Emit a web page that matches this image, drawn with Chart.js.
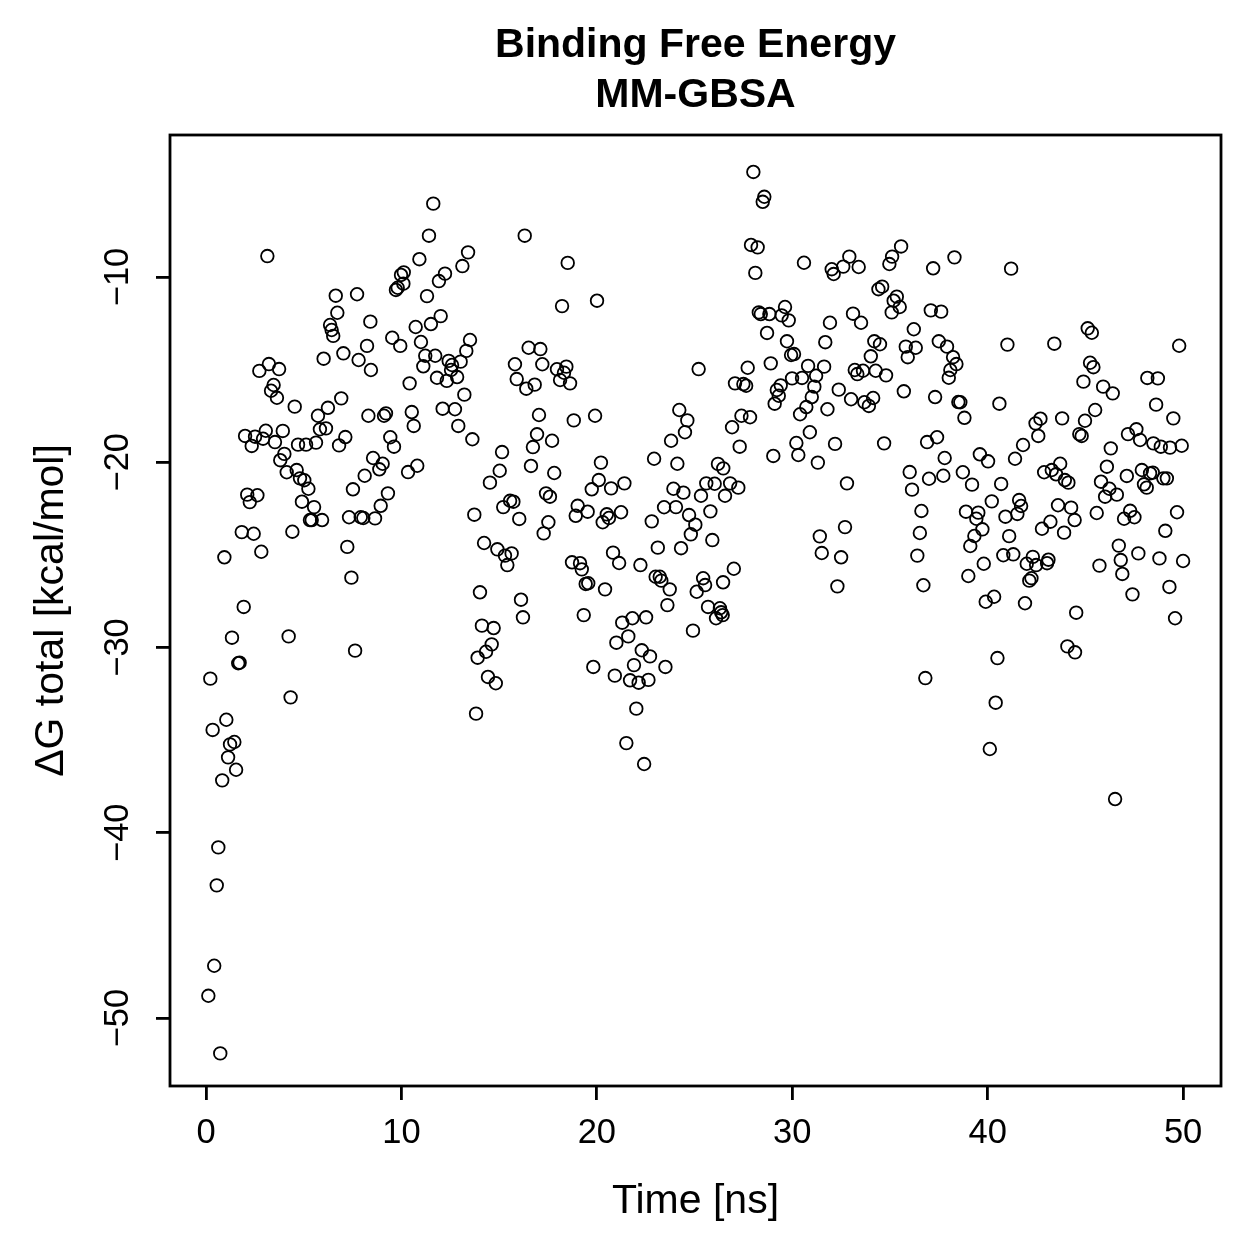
<!DOCTYPE html>
<html>
<head>
<meta charset="utf-8">
<script src="https://cdn.jsdelivr.net/npm/chart.js"></script>
<style>
html,body{margin:0;padding:0;background:#fff;}
canvas{display:block;}
</style>
</head>
<body>
<canvas id="c" width="1259" height="1259"></canvas>
<script>
const titleLines = ['Binding Free Energy', 'MM-GBSA'];
const xLabel = 'Time [ns]';
const yLabel = 'ΔG total [kcal/mol]';
const xTicks = [0, 10, 20, 30, 40, 50];
const yTicks = [-50, -40, -30, -20, -10];

const timeNs = [
0.12,0.22,0.34,0.42,0.55,0.63,0.73,0.83,0.94,1.04,1.13,1.23,1.33,1.45,1.54,1.65,1.72,1.83,1.93,2.00,
2.11,2.24,2.34,2.44,2.51,2.63,2.73,2.83,2.92,3.06,3.14,3.22,3.33,3.46,3.53,3.63,3.74,3.80,3.93,4.01,
4.13,4.23,4.33,4.42,4.54,4.64,4.71,4.81,4.91,5.03,5.12,5.24,5.32,5.41,5.53,5.63,5.73,5.83,5.94,6.02,
6.14,6.24,6.35,6.43,6.51,6.64,6.72,6.81,6.92,7.03,7.13,7.23,7.32,7.44,7.52,7.63,7.73,7.81,7.92,8.05,
8.12,8.24,8.31,8.41,8.44,8.55,8.65,8.87,8.94,9.04,9.11,9.21,9.31,9.43,9.53,9.62,9.72,9.81,9.94,9.98,
10.10,10.12,10.34,10.42,10.53,10.63,10.73,10.81,10.92,11.00,11.12,11.22,11.31,11.41,11.51,11.63,11.73,11.82,11.92,12.01,
12.11,12.23,12.32,12.42,12.54,12.59,12.74,12.85,12.91,13.03,13.12,13.22,13.32,13.41,13.51,13.63,13.73,13.82,13.90,14.02,
14.12,14.23,14.33,14.43,14.53,14.62,14.72,14.83,14.91,15.03,15.15,15.21,15.30,15.42,15.56,15.64,15.73,15.81,15.90,16.03,
16.12,16.22,16.31,16.39,16.51,16.63,16.73,16.82,16.94,17.04,17.11,17.21,17.28,17.40,17.52,17.60,17.71,17.82,17.96,18.12,
18.22,18.32,18.44,18.51,18.63,18.73,18.82,18.92,19.02,19.14,19.23,19.33,19.43,19.53,19.56,19.74,19.82,19.91,20.01,20.10,
20.21,20.30,20.42,20.51,20.62,20.73,20.83,20.92,21.00,21.14,21.24,21.30,21.41,21.51,21.61,21.70,21.82,21.90,22.02,22.14,
22.23,22.30,22.42,22.52,22.64,22.72,22.81,22.93,23.01,23.12,23.22,23.30,23.44,23.51,23.61,23.73,23.80,23.92,24.05,24.12,
24.22,24.31,24.43,24.51,24.63,24.72,24.81,24.92,25.04,25.11,25.21,25.33,25.44,25.54,25.60,25.69,25.81,25.91,26.03,26.10,
26.20,26.30,26.36,26.44,26.47,26.46,26.56,26.82,26.92,27.01,27.07,27.24,27.31,27.40,27.50,27.64,27.72,27.84,27.89,28.01,
28.11,28.23,28.29,28.39,28.49,28.57,28.71,28.83,28.90,29.03,29.10,29.21,29.31,29.41,29.46,29.63,29.73,29.82,29.94,29.99,
30.09,30.21,30.31,30.40,30.50,30.60,30.72,30.81,30.90,31.00,31.13,31.22,31.31,31.41,31.51,31.63,31.69,31.80,31.93,32.02,
32.12,32.19,32.31,32.38,32.50,32.61,32.70,32.80,32.92,33.01,33.11,33.20,33.33,33.40,33.52,33.62,33.69,33.92,34.02,34.14,
34.20,34.27,34.41,34.49,34.60,34.70,34.80,34.97,35.09,35.11,35.19,35.35,35.50,35.57,35.71,35.81,35.91,36.01,36.13,36.22,
36.32,36.40,36.53,36.61,36.71,36.81,36.90,37.00,37.09,37.21,37.31,37.41,37.50,37.62,37.73,37.80,37.92,38.01,38.09,38.23,
38.30,38.40,38.50,38.60,38.73,38.81,38.89,39.01,39.11,39.20,39.32,39.42,39.52,39.60,39.73,39.80,39.90,40.02,40.11,40.21,
40.33,40.41,40.50,40.60,40.69,40.80,40.91,41.01,41.10,41.20,41.31,41.40,41.52,41.61,41.71,41.81,41.91,42.00,42.13,42.24,
42.31,42.45,42.48,42.59,42.70,42.78,42.89,43.04,43.11,43.21,43.28,43.41,43.50,43.60,43.71,43.81,43.91,43.95,44.08,44.13,
44.27,44.45,44.47,44.53,44.69,44.81,44.90,44.98,45.12,45.24,45.33,45.41,45.50,45.58,45.72,45.80,45.91,46.01,46.10,46.23,
46.30,46.40,46.52,46.61,46.71,46.81,46.89,46.98,47.12,47.18,47.29,47.41,47.51,47.61,47.71,47.80,47.89,48.00,48.14,48.17,
48.31,48.45,48.48,48.62,48.71,48.79,48.86,48.99,49.09,49.17,49.30,49.33,49.50,49.59,49.69,49.80,49.93,50.00
];

const deltaG = [
-48.80,-31.68,-34.45,-47.18,-42.84,-40.79,-51.91,-37.17,-25.13,-33.90,-35.93,-35.23,-29.47,-35.10,-36.60,-30.85,-30.82,-23.77,-27.81,-18.58,
-21.75,-22.15,-19.12,-23.86,-18.62,-21.78,-15.07,-24.83,-18.73,-18.30,-8.87,-14.70,-16.14,-15.83,-18.91,-16.52,-14.97,-19.89,-18.31,-19.55,
-20.54,-29.40,-32.69,-23.75,-17.00,-20.42,-19.05,-20.87,-22.13,-20.97,-19.05,-21.43,-23.12,-23.12,-22.42,-18.94,-17.49,-18.22,-23.12,-14.41,
-18.17,-17.06,-12.59,-12.86,-13.18,-11.01,-11.93,-19.09,-16.55,-14.12,-18.64,-24.57,-22.97,-26.23,-21.46,-30.17,-10.93,-14.48,-22.97,-23.01,
-20.73,-13.72,-17.49,-12.41,-15.02,-19.77,-23.03,-20.38,-22.35,-20.08,-17.49,-17.36,-21.68,-18.65,-13.28,-19.16,-10.70,-10.58,-13.72,-9.89,
-10.36,-9.75,-20.53,-15.74,-17.29,-18.04,-12.70,-20.19,-9.04,-13.51,-14.82,-14.25,-11.03,-7.77,-12.54,-6.04,-14.25,-15.44,-10.22,-12.11,
-17.11,-9.82,-15.61,-14.53,-15.02,-14.75,-17.14,-15.40,-18.04,-14.57,-9.41,-16.35,-13.99,-8.67,-13.40,-18.76,-22.83,-33.57,-30.55,-27.02,
-28.82,-24.36,-30.23,-31.59,-21.10,-29.83,-28.95,-31.93,-24.70,-20.46,-19.45,-22.42,-25.04,-25.55,-22.08,-24.92,-22.13,-14.71,-15.51,-23.06,
-27.42,-28.37,-7.77,-16.03,-13.82,-20.20,-19.18,-15.81,-18.49,-17.45,-13.89,-14.71,-23.84,-21.68,-23.24,-21.86,-18.84,-20.58,-14.98,-15.56,
-11.57,-15.17,-14.84,-9.24,-15.74,-25.40,-17.74,-22.89,-22.35,-25.45,-25.78,-28.25,-26.57,-22.67,-26.53,-21.46,-31.05,-17.49,-11.28,-20.96,
-20.02,-23.24,-26.86,-22.81,-23.01,-21.41,-24.88,-31.52,-29.74,-25.44,-22.70,-28.66,-21.14,-35.16,-29.40,-31.77,-28.42,-30.95,-33.30,-31.90,
-25.55,-30.15,-36.29,-28.37,-31.75,-30.48,-23.19,-19.81,-26.18,-24.61,-26.18,-26.39,-22.43,-31.05,-27.71,-26.86,-18.84,-21.43,-22.42,-20.08,
-17.18,-24.64,-21.64,-18.38,-17.74,-22.85,-23.89,-29.09,-23.37,-26.99,-14.97,-21.81,-26.26,-26.63,-21.14,-27.81,-22.65,-24.20,-21.16,-28.42,
-20.09,-27.88,-28.10,-28.25,-20.33,-26.48,-21.81,-21.14,-18.11,-25.75,-15.74,-21.37,-19.16,-17.49,-15.78,-15.87,-14.90,-17.57,-8.27,-4.33,
-9.78,-8.40,-11.91,-12.00,-5.94,-5.67,-13.02,-12.00,-14.66,-19.66,-16.84,-16.10,-16.41,-15.85,-12.07,-11.62,-13.47,-12.34,-14.21,-15.47,
-14.16,-18.96,-19.61,-17.41,-15.45,-9.23,-17.02,-14.80,-18.38,-16.48,-15.92,-15.33,-20.02,-24.00,-24.90,-14.84,-13.52,-17.14,-12.47,-9.58,
-9.84,-19.01,-26.70,-16.08,-25.13,-9.44,-23.50,-21.14,-8.90,-16.60,-11.98,-15.02,-15.24,-9.46,-12.47,-15.06,-16.76,-16.96,-14.28,-16.53,
-13.47,-15.06,-10.66,-13.63,-10.52,-18.98,-15.31,-9.30,-11.91,-8.90,-11.28,-11.06,-11.62,-8.35,-16.17,-13.76,-14.33,-20.53,-21.48,-12.82,
-13.82,-25.04,-23.82,-22.63,-26.64,-31.65,-18.91,-20.89,-11.80,-9.53,-16.48,-18.65,-13.47,-11.87,-20.73,-19.77,-13.76,-15.44,-15.02,-14.33,
-8.94,-14.70,-16.75,-16.76,-20.54,-17.60,-22.67,-26.14,-24.52,-21.21,-23.98,-23.05,-22.72,-19.57,-23.62,-25.48,-27.53,-19.95,-35.48,-22.11,
-27.26,-32.98,-30.57,-16.84,-21.17,-25.02,-22.94,-13.65,-23.99,-9.55,-24.97,-19.81,-22.79,-22.04,-22.36,-19.07,-27.61,-25.48,-26.39,-26.26,
-25.11,-17.90,-25.55,-18.58,-17.65,-23.59,-20.54,-25.45,-25.26,-23.21,-20.42,-13.60,-20.65,-22.32,-20.08,-17.63,-23.80,-20.96,-29.94,-21.10,
-22.45,-23.12,-30.26,-28.12,-18.48,-18.58,-15.65,-17.76,-12.77,-14.63,-13.01,-14.87,-17.18,-22.74,-25.58,-21.05,-15.92,-21.86,-20.24,-21.43,
-19.25,-16.28,-38.18,-21.75,-24.50,-25.28,-26.03,-23.05,-20.74,-18.48,-22.62,-27.13,-22.97,-18.22,-24.92,-18.80,-20.42,-21.19,-21.37,-15.45,
-20.60,-20.56,-18.98,-16.89,-15.47,-25.19,-19.16,-20.87,-23.70,-20.87,-26.73,-19.21,-17.63,-28.42,-22.70,-13.71,-19.11,-25.33
];

const FONT = '"Liberation Sans", Arial, Helvetica, sans-serif';
const points = timeNs.map((t, i) => ({ x: t, y: deltaG[i] }));
const fmtTick = v => String(v).replace('-', '\u2212');

const annot = {
  id: 'annot',
  beforeDraw(chart) {
    const ctx = chart.ctx;
    ctx.save();
    ctx.fillStyle = '#fff';
    ctx.fillRect(0, 0, chart.width, chart.height);
    ctx.restore();
  },
  afterDraw(chart) {
    const { ctx, chartArea: a, scales } = chart;
    const cx = (a.left + a.right) / 2;
    const cy = (a.top + a.bottom) / 2;
    ctx.save();
    ctx.strokeStyle = '#000';
    ctx.lineWidth = 2.8;
    ctx.strokeRect(a.left, a.top, a.right - a.left, a.bottom - a.top);
    ctx.fillStyle = '#000';
    ctx.textAlign = 'center';
    ctx.textBaseline = 'middle';
    // y tick labels (rotated, R style)
    ctx.font = '34.5px ' + FONT;
    yTicks.forEach(v => {
      const py = scales.y.getPixelForValue(v);
      ctx.save();
      ctx.translate(a.left - 52, py);
      ctx.rotate(-Math.PI / 2);
      ctx.fillText(fmtTick(v), 0, 0);
      ctx.restore();
    });
    // axis titles
    ctx.font = '41px ' + FONT;
    ctx.fillText(xLabel, cx, 1202);
    ctx.save();
    ctx.translate(52, cy);
    ctx.rotate(-Math.PI / 2);
    ctx.fillText(yLabel, 0, 0);
    ctx.restore();
    // main title
    ctx.font = 'bold 41px ' + FONT;
    ctx.fillText(titleLines[0], cx, 46);
    ctx.fillText(titleLines[1], cx, 96);
    ctx.restore();
  }
};

new Chart(document.getElementById('c'), {
  type: 'scatter',
  data: {
    datasets: [{
      data: points,
      pointStyle: 'circle',
      pointRadius: 6.3,
      pointHoverRadius: 6.3,
      pointBorderWidth: 1.8,
      pointBorderColor: '#000',
      pointBackgroundColor: 'rgba(0,0,0,0)',
      showLine: false
    }]
  },
  options: {
    responsive: false,
    devicePixelRatio: 1,
    animation: false,
    events: [],
    layout: { padding: { left: 0, right: 38, top: 135, bottom: 0 } },
    plugins: { legend: { display: false }, title: { display: false }, tooltip: { enabled: false } },
    scales: {
      x: {
        type: 'linear',
        min: -1.842,
        max: 51.94,
        afterBuildTicks(scale) { scale.ticks = xTicks.map(v => ({ value: v })); },
        afterFit(scale) { scale.height = 173; },
        border: { display: false },
        grid: { drawOnChartArea: false, drawTicks: true, tickLength: 14, color: '#000', lineWidth: 2.8 },
        ticks: { color: '#000', font: { family: FONT, size: 34.5 }, padding: 13, maxRotation: 0, autoSkip: false }
      },
      y: {
        type: 'linear',
        min: -53.67,
        max: -2.335,
        afterBuildTicks(scale) { scale.ticks = yTicks.map(v => ({ value: v })); },
        afterFit(scale) { scale.width = 170; },
        border: { display: false },
        grid: { drawOnChartArea: false, drawTicks: true, tickLength: 14, color: '#000', lineWidth: 2.8 },
        ticks: { display: false }
      }
    }
  },
  plugins: [annot]
});
</script>
</body>
</html>
